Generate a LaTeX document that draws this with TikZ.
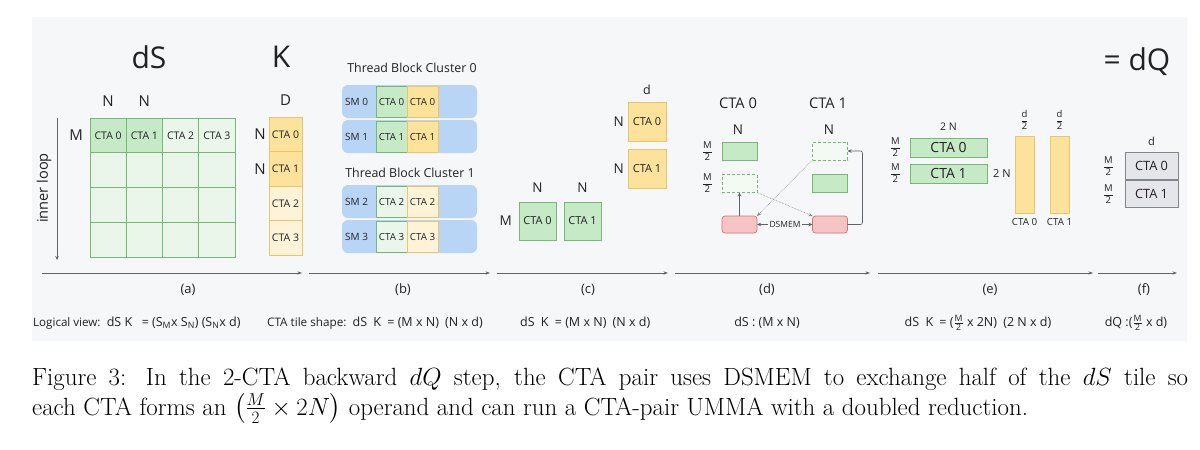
\documentclass[tikz,border=0pt]{standalone}
\usepackage{amsmath}
\usepackage{fontspec}
\usepackage{xcolor}
\usepackage{tikz}
\usetikzlibrary{arrows.meta,positioning}
\newfontfamily\figsans{Open Sans}
\definecolor{tkbg}{RGB}{246,247,249}
\definecolor{tkink}{RGB}{34,34,38}
\definecolor{tkline}{RGB}{95,98,104}
\definecolor{tkgrn}{RGB}{198,233,198}
\definecolor{tkgrnlt}{RGB}{233,246,233}
\definecolor{tkgrnedge}{RGB}{118,184,118}
\definecolor{tkyel}{RGB}{252,226,155}
\definecolor{tkyellt}{RGB}{254,243,214}
\definecolor{tkyeledge}{RGB}{233,197,108}
\definecolor{tkblue}{RGB}{184,213,246}
\definecolor{tkred}{RGB}{247,196,198}
\definecolor{tkrededge}{RGB}{218,112,116}
\definecolor{tkgray}{RGB}{229,230,234}
\definecolor{tkgrayedge}{RGB}{128,133,142}
\newcommand{\fsz}[1]{\fontsize{#1}{#1}\selectfont}
\newcommand{\halfof}[1]{$\genfrac{}{}{0.45pt}{0}{\text{#1}}{\text{2}}$}
\newcommand{\halfin}[1]{$\genfrac{}{}{0.4pt}{}{\text{#1}}{\text{2}}$}
\tikzset{
  tile/.style={
    draw, line width=0.7pt, outer sep=0pt, inner sep=0pt,
    align=center, text=tkink, font=\figsans\fsz{10.5}
  },
  gtile/.style={tile, draw=tkgrnedge, fill=tkgrnlt},
  ytile/.style={tile, draw=tkyeledge, fill=tkyellt},
  ghost/.style={gtile, fill=tkgrnlt!55!white, densely dashed, line width=0.6pt},
  xbuf/.style={tile, draw=tkrededge, fill=tkred, rounded corners=3pt,
    minimum width=35pt, minimum height=17pt},
  qtile/.style={tile, draw=tkgrayedge, fill=tkgray, font=\figsans\fsz{12.8},
    minimum width=53pt, minimum height=27pt},
  gcell/.style={minimum width=36.25pt, minimum height=34.75pt},
  kcell/.style={minimum width=33pt, minimum height=34.5pt},
  bcell/.style={minimum width=31pt, minimum height=31pt, font=\figsans\fsz{9.8}},
  ccell/.style={minimum width=38pt, minimum height=39pt, font=\figsans\fsz{11}},
  dcell/.style={minimum width=35pt, minimum height=18pt},
  ecell/.style={minimum width=77pt, minimum height=19pt, font=\figsans\fsz{14}},
  ebar/.style={minimum width=19pt, minimum height=77pt},
  smrow/.style={fill=tkblue, rounded corners=6pt, inner sep=0pt, outer sep=0pt,
    minimum width=135pt, minimum height=33pt},
  smtag/.style={font=\figsans\fsz{10}, text=tkink, inner sep=0pt},
  title/.style={font=\figsans\fsz{30}, text=tkink, inner sep=0pt},
  sub/.style={font=\figsans\fsz{12.4}, text=tkink, inner sep=0pt},
  hdr/.style={font=\figsans\fsz{14.7}, text=tkink, inner sep=0pt},
  dim/.style={font=\figsans\fsz{15}, text=tkink, inner sep=1pt},
  small/.style={font=\figsans\fsz{10.5}, text=tkink, inner sep=1pt},
  frac/.style={font=\figsans\fsz{9.5}, text=tkink, inner sep=0pt},
  plab/.style={font=\figsans\fsz{13}, text=tkink, inner sep=0pt},
  note/.style={font=\figsans\fsz{12.5}, text=tkink, inner sep=0pt, anchor=base west},
  figcap/.style={font=\rmfamily\fontsize{24.9}{30}\selectfont, text=black, inner sep=0pt, anchor=base west},
  tl/.style={-{Stealth[length=4.5pt,width=3.2pt]}, draw=tkline, line width=0.7pt},
  arr/.style={-{Stealth[length=4pt,width=3.5pt]}, draw=tkline, line width=0.6pt},
  darr/.style={arr, densely dotted, draw=tkline!75}
}

\begin{document}
\begin{tikzpicture}[x=1pt, y=-1pt, node distance=4pt]
  \useasboundingbox (0,0) rectangle (1200,450);
  \fill[tkbg] (32,17) rectangle (1187,341);

  % (a)
  \node[title] (dS) at (149,57) {dS};
  \node[title] (K) at (281,57) {K};
  \foreach \c/\f in {0/tkgrn,1/tkgrn,2/tkgrnlt,3/tkgrnlt}
    \node[gtile, gcell, fill=\f] (g0\c) at ({108.125+36.25*\c},135.375) {CTA \c};
  \foreach \r in {1,2,3}
    \foreach \c in {0,...,3}
      \node[gtile, gcell] (g\r\c) at ({108.125+36.25*\c},{135.375+34.75*\r}) {};
  \node[dim, above=10pt of g00] (na0) {N};
  \node[dim, above=10pt of g01] (na1) {N};
  \node[dim, left=6pt of g00] (ma) {M};
  \coordinate (loopTop) at (57,118);
  \coordinate (loopEnd) at (57,260);
  \draw[arr] (loopTop) -- (loopEnd);
  \node[dim, rotate=90, font=\figsans\fsz{14.6}] (loop) at (44,188) {inner loop};
  \node[ytile, fill=tkyel, kcell] (k0) at (285.5,134.25) {CTA 0};
  \node[ytile, fill=tkyel, kcell, below=0pt of k0] (k1) {CTA 1};
  \node[ytile, kcell, below=0pt of k1] (k2) {CTA 2};
  \node[ytile, kcell, below=0pt of k2] (k3) {CTA 3};
  \node[dim, above=10pt of k0] (kd) {D};
  \node[dim, left=2pt of k0] (kn0) {N};
  \node[dim, left=2pt of k1] (kn1) {N};

  % (b)
  \node[sub] (tbc0) at (412,68) {Thread Block Cluster 0};
  \node[smrow] (sm0) at (409.5,101.5) {};
  \node[smrow, below=2pt of sm0] (sm1) {};
  \node[sub] (tbc1) at (410,173) {Thread Block Cluster 1};
  \node[smrow] (sm2) at (409.5,201.5) {};
  \node[smrow, below=2pt of sm2] (sm3) {};
  \foreach \i/\g/\y in {0/tkgrn/tkyel,1/tkgrn/tkyel,2/tkgrnlt/tkyellt,3/tkgrnlt/tkyellt} {
    \node[smtag, right=3pt of sm\i.west] (smt\i) {SM \i};
    \node[gtile, bcell, fill=\g, right=34pt of sm\i.west] (bg\i) {CTA \i};
    \node[ytile, bcell, fill=\y, right=0pt of bg\i] (by\i) {CTA \i};
  }

  % (c)
  \node[ytile, ccell, fill=tkyel] (cy0) at (647,121.5) {CTA 0};
  \node[ytile, ccell, fill=tkyel, below=8pt of cy0] (cy1) {CTA 1};
  \node[dim, font=\figsans\fsz{12.5}, above=6pt of cy0] (cd) {d};
  \node[dim, font=\figsans\fsz{13.5}, left=3pt of cy0] (cn0) {N};
  \node[dim, font=\figsans\fsz{13.5}, left=3pt of cy1] (cn1) {N};
  \node[gtile, ccell, fill=tkgrn, minimum width=37pt, minimum height=38pt] (cg0) at (537.5,221) {CTA 0};
  \node[gtile, ccell, fill=tkgrn, minimum width=37pt, minimum height=38pt, right=8pt of cg0] (cg1) {CTA 1};
  \node[dim, font=\figsans\fsz{13.5}, above=8pt of cg0] (cgn0) {N};
  \node[dim, font=\figsans\fsz{13.5}, above=8pt of cg1] (cgn1) {N};
  \node[dim, font=\figsans\fsz{13.5}, left=6pt of cg0] (cm) {M};

  % (d)
  \node[hdr] (cta0) at (738,103) {CTA 0};
  \node[hdr] (cta1) at (828,103) {CTA 1};
  \node[dim, font=\figsans\fsz{13.5}] (dn0) at (738,130) {N};
  \node[dim, font=\figsans\fsz{13.5}] (dn1) at (829,130) {N};
  \node[gtile, dcell, fill=tkgrn] (d0a) at (739.5,151) {};
  \node[ghost, dcell] (d0b) at (739.5,183.5) {};
  \node[ghost, dcell] (d1a) at (830,151) {};
  \node[gtile, dcell, fill=tkgrn] (d1b) at (830,183.5) {};
  \node[xbuf] (x0) at (739.5,224.5) {};
  \node[xbuf] (x1) at (830,224.5) {};
  \node[frac, left=9pt of d0a] (dm0) {\halfof{M}};
  \node[frac, left=9pt of d0b] (dm1) {\halfof{M}};
  \node[tile, draw=none, fill=none, font=\figsans\fsz{8.5}, inner sep=1.5pt] (dsmem) at (785,224.5) {DSMEM};
  \draw[arr] (dsmem) -- (x0);
  \draw[arr] (dsmem) -- (x1);
  \draw[arr] (x0) -- (d0b);
  \draw[darr] (d1a.south west) -- (x0.north east);
  \draw[darr] (d0b.south east) -- (x1.north west);
  \draw[arr, rounded corners=2pt] (x1.east) -- ++(15,0) |- (d1a.east);

  % (e)
  \node[gtile, ecell, fill=tkgrn] (e0) at (948.5,147.5) {CTA 0};
  \node[gtile, ecell, fill=tkgrn, below=7pt of e0] (e1) {CTA 1};
  \node[small, above=6pt of e0] (en) {2 N};
  \node[small, font=\figsans\fsz{11}, right=5pt of e1] (en2) {2 N};
  \node[frac, left=9pt of e0] (em0) {\halfof{M}};
  \node[frac, left=9pt of e1] (em1) {\halfof{M}};
  \node[ytile, ebar, fill=tkyel] (eb0) at (1024.5,174.5) {};
  \node[ytile, ebar, fill=tkyel, right=16pt of eb0] (eb1) {};
  \node[frac, above=6pt of eb0] (ed0) {\halfof{d}};
  \node[frac, above=6pt of eb1] (ed1) {\halfof{d}};
  \node[small, font=\figsans\fsz{9.8}, below=4pt of eb0] (ec0) {CTA 0};
  \node[small, font=\figsans\fsz{9.8}, below=4pt of eb1] (ec1) {CTA 1};

  % (f)
  \node[title] (dQ) at (1137,62) {= dQ};
  \node[qtile] (q0) at (1151.5,166) {CTA 0};
  \node[qtile, below=1pt of q0] (q1) {CTA 1};
  \node[dim, font=\figsans\fsz{11}, above=6pt of q0] (qd) {d};
  \node[frac, left=11pt of q0] (qm0) {\halfof{M}};
  \node[frac, left=11pt of q1] (qm1) {\halfof{M}};

  % timeline
  \foreach \p/\a/\b/\m in {a/42/302/188, b/309/490/403, c/497/668/588, d/675/870/767, e/878/1093/990, f/1098/1177/1144} {
    \coordinate (t\p s) at (\a,273);
    \coordinate (t\p e) at (\b,273);
    \draw[tl] (t\p s) -- (t\p e);
    \node[plab] (lab\p) at (\m,290) {(\p)};
  }
  \node[note] (va) at (33,326) {{\fsz{11.6}Logical view:}\enspace dS K\enspace\ = (S\textsubscript{M}x S\textsubscript{N}) (S\textsubscript{N}x d)};
  \node[note] (vb) at (267,326) {{\fsz{11.7}CTA tile shape:}\enspace dS\enspace K\enspace = (M x N)\enspace (N x d)};
  \node[note] (vc) at (520,326) {dS\enspace K\enspace = (M x N)\enspace (N x d)};
  \node[note, anchor=base] (vd) at (767,326) {dS : (M x N)};
  \node[note, anchor=base] (ve) at (978,326) {dS\enspace K\enspace = (\halfin{M} x 2N)\enspace (2 N x d)};
  \node[note, anchor=base] (vf) at (1136,326) {dQ :(\halfin{M} x d)};

  % caption
  \node[figcap] (cap1) at (32,385) {\makebox[1156pt][s]{Figure 3: In the 2-CTA backward $dQ$ step, the CTA pair uses DSMEM to exchange half of the $dS$ tile so}};
  \node[figcap] (cap2) at (32,415) {each CTA forms an $\left(\frac{M}{2}\times 2N\right)$ operand and can run a CTA-pair UMMA with a doubled reduction.};
\end{tikzpicture}
\end{document}
